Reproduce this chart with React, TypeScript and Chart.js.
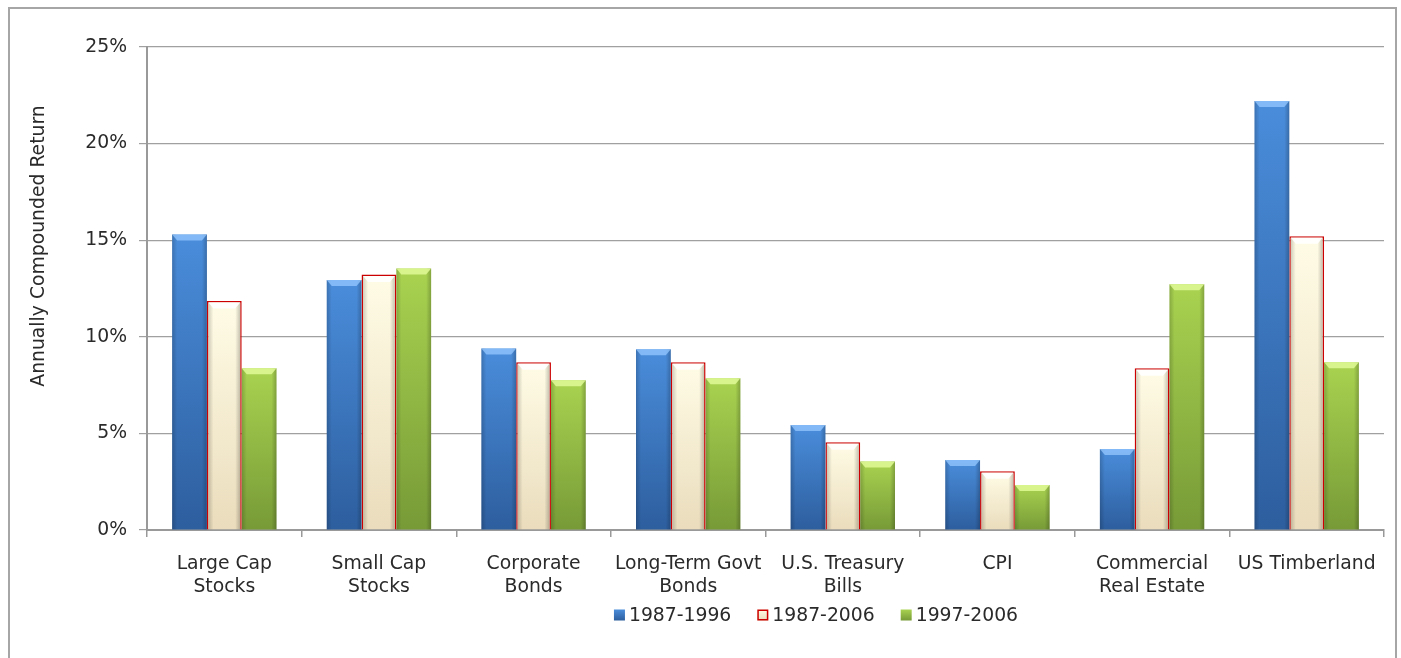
import React, { useEffect, useRef } from 'react';
import { Chart, registerables } from 'chart.js';

Chart.register(...registerables);

const categories: (string | string[])[] = [
  ['Large Cap', 'Stocks'],
  ['Small Cap', 'Stocks'],
  ['Corporate', 'Bonds'],
  ['Long-Term Govt', 'Bonds'],
  ['U.S. Treasury', 'Bills'],
  'CPI',
  ['Commercial', 'Real Estate'],
  'US Timberland',
];

const seriesNames = ['1987-1996', '1987-2006', '1997-2006'];
const series1987_1996 = [15.3, 12.94, 9.4, 9.35, 5.43, 3.62, 4.19, 22.2];
const series1987_2006 = [11.85, 13.23, 8.68, 8.68, 4.54, 3.04, 8.37, 15.2];
const series1997_2006 = [8.37, 13.54, 7.75, 7.85, 3.55, 2.33, 12.72, 8.68];
const yTicks = [0, 5, 10, 15, 20, 25];

const FONT = '"DejaVu Sans", Verdana, sans-serif';
const FONT_SIZE = 18.8;
const TEXT = '#2a2a2a';

const palettes = [
  { top: '#4a8ddb', bottom: '#2d5e9e', hi: 'rgba(150,200,255,0.75)' },
  { top: '#fffce6', bottom: '#eadcbc', hi: 'rgba(255,255,255,0.9)' },
  { top: '#a9d350', bottom: '#779a37', hi: 'rgba(225,250,150,0.85)' },
];

function barGrad(top: string, bottom: string) {
  return (ctx: any) => {
    const chart = ctx.chart;
    const y = chart.scales && chart.scales.y;
    if (!y || ctx.raw == null || !chart.chartArea) return top;
    const y0 = y.getPixelForValue(0);
    const y1 = y.getPixelForValue(ctx.raw);
    if (!isFinite(y0) || !isFinite(y1) || y0 === y1) return top;
    const g = chart.ctx.createLinearGradient(0, y1, 0, y0);
    g.addColorStop(0, top);
    g.addColorStop(1, bottom);
    return g;
  };
}

const bevelPlugin = {
  id: 'bevel',
  afterDatasetsDraw(chart: any) {
    const c = chart.ctx;
    chart.data.datasets.forEach((_ds: any, i: number) => {
      const meta = chart.getDatasetMeta(i);
      const pal = palettes[i];
      const inset = i === 1 ? 1.5 : 0;
      meta.data.forEach((el: any) => {
        const { x, y, base, width } = el.getProps(['x', 'y', 'base', 'width'], true);
        const l = x - width / 2 + inset;
        const r = x + width / 2 - inset;
        const t = y + inset;
        const b = base;
        c.save();
        const gl = c.createLinearGradient(l, 0, l + 5, 0);
        gl.addColorStop(0, 'rgba(0,0,0,0.18)');
        gl.addColorStop(1, 'rgba(0,0,0,0)');
        c.fillStyle = gl;
        c.fillRect(l, t, 5, b - t);
        const gr = c.createLinearGradient(r - 5, 0, r, 0);
        gr.addColorStop(0, 'rgba(0,0,0,0)');
        gr.addColorStop(1, 'rgba(0,0,0,0.22)');
        c.fillStyle = gr;
        c.fillRect(r - 5, t, 5, b - t);
        c.beginPath();
        c.moveTo(l, t);
        c.lineTo(r, t);
        c.lineTo(r - 5, t + 6);
        c.lineTo(l + 5, t + 6);
        c.closePath();
        c.fillStyle = pal.hi;
        c.fill();
        c.restore();
      });
    });
  },
};

const extrasPlugin = {
  id: 'extras',
  afterDraw(chart: any) {
    const c = chart.ctx;
    c.save();
    c.font = `${FONT_SIZE}px ${FONT}`;
    c.fillStyle = TEXT;
    c.textAlign = 'center';
    c.textBaseline = 'middle';
    c.translate(29, 237);
    c.rotate(-Math.PI / 2);
    c.fillText('Annually Compounded Return', 0, 0);
    c.restore();

    c.save();
    c.font = `${FONT_SIZE}px ${FONT}`;
    c.textBaseline = 'middle';
    c.textAlign = 'left';
    const box = 11;
    const gap = 4;
    const spacing = 26;
    const widths = seriesNames.map((n) => c.measureText(n).width);
    const total = widths.reduce((a, w) => a + box + gap + w, 0) + spacing * (seriesNames.length - 1);
    let x = 806 - total / 2;
    const cy = 606;
    seriesNames.forEach((name, i) => {
      const pal = palettes[i];
      const g = c.createLinearGradient(0, cy - box / 2, 0, cy + box / 2);
      g.addColorStop(0, pal.top);
      g.addColorStop(1, pal.bottom);
      c.fillStyle = g;
      c.fillRect(x, cy - box / 2, box, box);
      if (i === 1) {
        c.strokeStyle = '#cc0000';
        c.lineWidth = 1.5;
        c.strokeRect(x + 0.75, cy - box / 2 + 0.75, box - 1.5, box - 1.5);
      }
      c.fillStyle = TEXT;
      c.fillText(name, x + box + gap, cy + 1);
      x += box + gap + widths[i] + spacing;
    });
    c.restore();
  },
};

export default function App() {
  const ref = useRef<HTMLCanvasElement | null>(null);

  useEffect(() => {
    if (!ref.current) return;
    const chart = new Chart(ref.current, {
      type: 'bar',
      data: {
        labels: categories,
        datasets: [
          {
            label: seriesNames[0],
            data: series1987_1996,
            backgroundColor: barGrad(palettes[0].top, palettes[0].bottom),
            borderWidth: 0,
          },
          {
            label: seriesNames[1],
            data: series1987_2006,
            backgroundColor: barGrad(palettes[1].top, palettes[1].bottom),
            borderColor: '#cc0000',
            borderWidth: 1.5,
          },
          {
            label: seriesNames[2],
            data: series1997_2006,
            backgroundColor: barGrad(palettes[2].top, palettes[2].bottom),
            borderWidth: 0,
          },
        ],
      },
      options: {
        animation: false,
        responsive: true,
        maintainAspectRatio: false,
        categoryPercentage: 0.675,
        barPercentage: 1,
        layout: { padding: { top: 38, right: 11, bottom: 0, left: 0 } },
        plugins: {
          legend: { display: false },
          title: { display: false },
          tooltip: { enabled: false },
        },
        scales: {
          x: {
            grid: {
              offset: true,
              drawOnChartArea: false,
              drawTicks: true,
              tickLength: 7,
              color: '#999999',
              lineWidth: 1.5,
            },
            border: { display: true, color: '#999999', width: 2 },
            ticks: {
              color: TEXT,
              font: { family: FONT, size: FONT_SIZE, lineHeight: 1.2 },
              padding: 16,
              maxRotation: 0,
              autoSkip: false,
            },
            afterFit(scale: any) {
              scale.height = 128;
            },
          },
          y: {
            min: 0,
            max: 25,
            afterBuildTicks(scale: any) {
              scale.ticks = yTicks.map((v) => ({ value: v }));
            },
            grid: {
              color: '#a0a0a0',
              lineWidth: 1.2,
              tickLength: 8,
            },
            border: { display: true, color: '#999999', width: 2 },
            ticks: {
              color: TEXT,
              font: { family: FONT, size: FONT_SIZE },
              padding: 12,
              callback: (v: any) => `${v}%`,
            },
            afterFit(scale: any) {
              scale.width = 137;
            },
          },
        },
      },
      plugins: [bevelPlugin, extrasPlugin],
    });
    return () => chart.destroy();
  }, []);

  return (
    <div
      style={{
        position: 'fixed',
        left: 8,
        top: 7,
        width: 1389,
        height: 662,
        boxSizing: 'border-box',
        border: '2px solid #a6a6a6',
        background: '#ffffff',
      }}
    >
      <div style={{ position: 'relative', width: 1385, height: 649 }}>
        <canvas ref={ref} />
      </div>
    </div>
  );
}
